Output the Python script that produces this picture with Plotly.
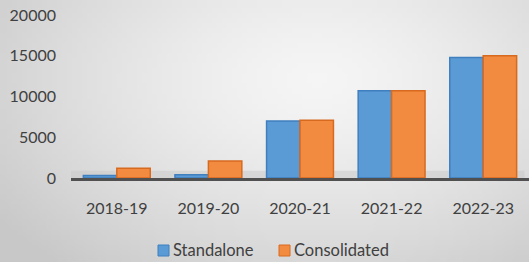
import base64
import struct
import zlib
import plotly.graph_objects as go

years = ["2018-19", "2019-20", "2020-21", "2021-22", "2022-23"]
series_names = ["Standalone", "Consolidated"]
standalone = [300, 400, 7000, 10700, 14800]
consolidated = [1200, 2100, 7100, 10700, 15000]
y_ticks = [0, 5000, 10000, 15000, 20000]
y_tick_text = ["0", "5000", "10000", "15000", "20000"]

FONT = "Lato"
TXT = "#404040"
W, H = 529, 262
L, R, T, B = 71, 0, 15, 84
PW, PH = W - L - R, H - T - B
COLORS = ["#5b9bd5", "#f28b40"]
EDGES = ["#3f7fbf", "#d86a1f"]


def make_bg_png(w=106, h=52):
    rows = []
    for j in range(h):
        row = bytearray([0])
        for i in range(w):
            dx = (i / (w - 1) - 0.6) / 0.75
            dy = (j / (h - 1) - 0.3) / 0.95
            d = min(1.0, (dx * dx + dy * dy) ** 0.5)
            v = int(round(245 - (245 - 200) * d ** 1.4))
            row += bytes([v, v, v])
        rows.append(bytes(row))
    raw = zlib.compress(b"".join(rows), 9)

    def chunk(tag, data):
        c = struct.pack(">I", len(data)) + tag + data
        return c + struct.pack(">I", zlib.crc32(tag + data) & 0xFFFFFFFF)

    png = b"\x89PNG\r\n\x1a\n" + chunk(b"IHDR", struct.pack(">IIBBBBB", w, h, 8, 2, 0, 0, 0))
    png += chunk(b"IDAT", raw) + chunk(b"IEND", b"")
    return "data:image/png;base64," + base64.b64encode(png).decode()


fig = go.Figure()
for name, vals, col, edge in zip(series_names, [standalone, consolidated], COLORS, EDGES):
    fig.add_trace(go.Bar(name=name, x=years, y=vals,
                         marker=dict(color=col, line=dict(color=edge, width=1.5))))


def px_x(px):
    return (px - L) / PW


def px_y(py):
    return (H - B - py) / PH


shapes = [dict(type="rect", xref="paper", yref="y", layer="below",
               x0=0, x1=0.99, y0=0, y1=900,
               fillcolor="rgba(200,200,200,0.5)", line=dict(width=0))]
annotations = []
legend_x = [158, 279]
for name, col, edge, lx in zip(series_names, COLORS, EDGES, legend_x):
    shapes.append(dict(type="rect", xref="paper", yref="paper",
                       x0=px_x(lx), x1=px_x(lx + 11), y0=px_y(256), y1=px_y(245),
                       fillcolor=col, line=dict(color=edge, width=1)))
    annotations.append(dict(text=name, xref="paper", yref="paper", showarrow=False,
                            x=px_x(lx + 13), y=px_y(250.5), xanchor="left", yanchor="middle",
                            font=dict(family=FONT, size=16.5, color=TXT)))

fig.update_layout(
    width=W, height=H,
    margin=dict(l=L, r=R, t=T, b=B),
    paper_bgcolor="#e2e2e2",
    plot_bgcolor="rgba(0,0,0,0)",
    barmode="group", bargap=0.27, bargroupgap=0,
    font=dict(family=FONT, size=16, color=TXT),
    shapes=shapes,
    annotations=annotations,
    images=[dict(source=make_bg_png(), xref="paper", yref="paper",
                 x=-L / PW, y=1 + T / PH, sizex=W / PW, sizey=H / PH,
                 xanchor="left", yanchor="top", sizing="stretch", layer="below")],
    showlegend=False,
)
fig.update_xaxes(showgrid=False, showline=True, linecolor="#505050", linewidth=3,
                 ticks="", ticklabelstandoff=14, tickfont=dict(family=FONT, size=16, color=TXT))
fig.update_yaxes(range=[0, 20000], tickvals=y_ticks, ticktext=y_tick_text,
                 showgrid=False, zeroline=False, showline=False, ticks="",
                 ticklabelstandoff=14, tickfont=dict(family=FONT, size=16, color=TXT))

fig.write_html("out.html", post_script="document.body.style.margin='0';",
               config={"displayModeBar": False})
